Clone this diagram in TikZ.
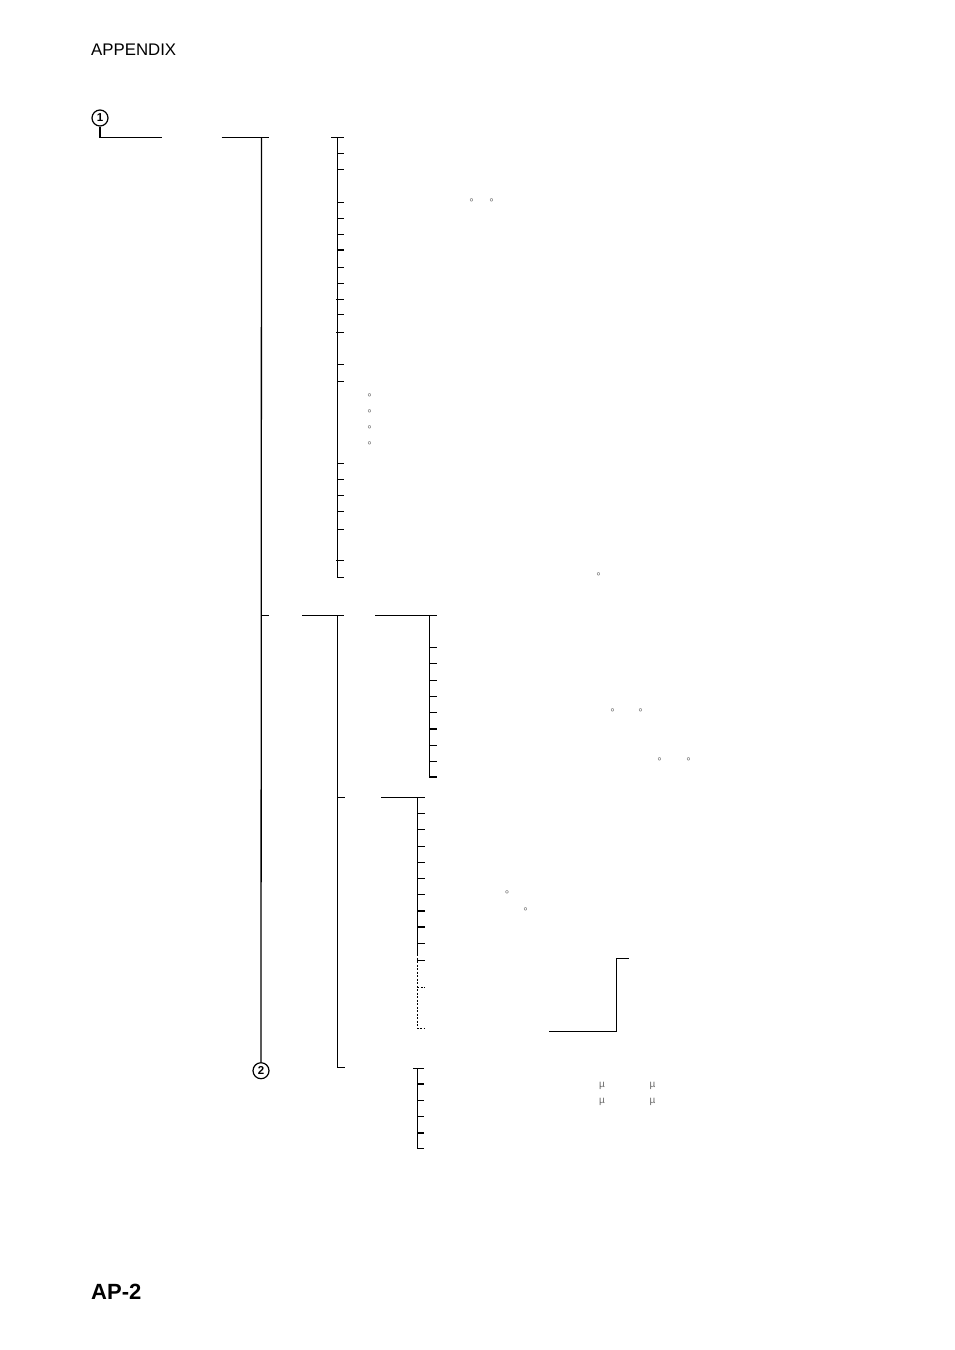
\documentclass[tikz,border=0pt]{standalone}
\usepackage{fontspec}
\setmainfont{Liberation Sans}
\begin{document}
\begin{tikzpicture}[x=1pt,y=-1pt,
  ln/.style={line width=1.3pt},
  dl/.style={line width=1.3pt, dash pattern=on 2pt off 1.5pt},
  circnum/.style={draw, circle, line width=1.2pt, minimum size=16pt, inner sep=0pt, font=\fontsize{11.5}{11.5}\selectfont\bfseries},
  deg/.style={font=\fontsize{11}{11}\selectfont, text=black!60, inner sep=0pt, anchor=north},
  mu/.style={font=\fontsize{10}{10}\selectfont, text=black!60, inner sep=0pt}]
\useasboundingbox (0,0) rectangle (954,1350);
\node[anchor=base west, inner sep=0pt, font=\fontsize{16.8}{18}\selectfont] (title) at (91,55) {APPENDIX};
\node[anchor=base west, inner sep=0pt, font=\fontsize{22}{24}\selectfont\bfseries] (page) at (91,1299) {AP-2};
% circle 1 and entry
\node[circnum] (c1) at (100,118) {1};
\coordinate (c1c) at (100,137.3);
\draw[ln] (c1.south) -- (c1c) -- (162,137.3);
\draw[ln] (221.5,137.3) -- (269,137.3);
% main trunk
\node[circnum] (c2) at (261,1070.7) {2};
\draw[ln] (261.5,137.3) -- (c2.north);
% first list
\draw[ln] (331,137.3) -- (344,137.3);
\draw[ln] (337.5,137.3) -- (337.5,577.3) -- (344,577.3);
\foreach \y in {153.3,169.3,202.3,218.3,234.3,250,267.3,283.3,314.3,364.7,381.3,463.3,479.3,495.3,511.3,529.3}
  \draw[ln] (337.5,\y) -- (344,\y);
\foreach \y in {299.3,332.3,560.7}
  \draw[ln] (336,\y) -- (344,\y);
\node[deg] (d1) at (471.5,199) {°};
\node[deg] (d2) at (491.5,199) {°};
\node[deg] (d3) at (369.5,394) {°};
\node[deg] (d4) at (369.5,410) {°};
\node[deg] (d5) at (369.5,426) {°};
\node[deg] (d6) at (369.5,442) {°};
\node[deg] (d7) at (598.5,573) {°};
% second branch
\draw[ln] (261.5,615.3) -- (269,615.3);
\draw[ln] (302,615.3) -- (344,615.3);
\draw[ln] (337.7,615.3) -- (337.7,1067.7) -- (345,1067.7);
\draw[ln] (375,615.3) -- (437,615.3);
\draw[ln] (429.3,615.3) -- (429.3,777) -- (437,777);
\foreach \y in {647.3,663.3,680.3,696.3,712.3,729,745.3,761.3}
  \draw[ln] (429.3,\y) -- (437,\y);
\node[deg] (d8) at (612.5,709) {°};
\node[deg] (d9) at (640.5,709) {°};
\node[deg] (d10) at (659.5,758) {°};
\node[deg] (d11) at (688.5,758) {°};
% third list
\draw[ln] (337.7,797.3) -- (345,797.3);
\draw[ln] (381,797.3) -- (425,797.3);
\draw[ln] (417.3,797.3) -- (417.3,954);
\foreach \y in {813.3,829.3,846.3,862.3,878.3,894.3,911,927,943.3,960.3}
  \draw[ln] (417.3,\y) -- (425,\y);
\draw[dl] (417.3,954) -- (417.3,1028.3) -- (425,1028.3);
\draw[dl] (417.3,987.3) -- (425,987.3);
\node[deg] (d12) at (507,891) {°};
\node[deg] (d13) at (525.5,908) {°};
\draw[ln] (549,1031.3) -- (616.7,1031.3) -- (616.7,958.3) -- (629,958.3);
% fourth list
\draw[ln] (413,1068.3) -- (424,1068.3);
\draw[ln] (417.3,1068.3) -- (417.3,1148.7) -- (424,1148.7);
\foreach \y in {1084,1100.3,1116.3,1133}
  \draw[ln] (417.3,\y) -- (424,\y);
\node[mu] (m1) at (602,1085.5) {µ};
\node[mu] (m2) at (652.5,1085.5) {µ};
\node[mu] (m3) at (602,1101.5) {µ};
\node[mu] (m4) at (652.5,1101.5) {µ};
\end{tikzpicture}
\end{document}
